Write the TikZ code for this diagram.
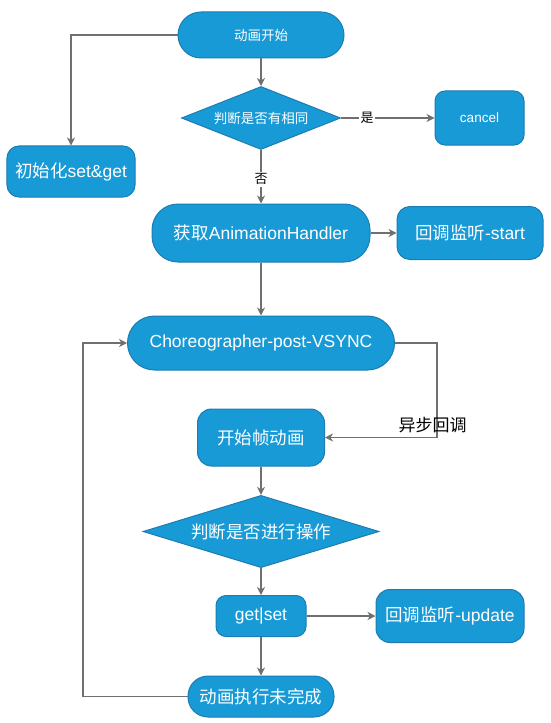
\documentclass[tikz,border=0pt]{standalone}
\usepackage{fontspec}
\setmainfont{Liberation Sans}
\newfontfamily\cjk{Noto Sans CJK SC}
\usetikzlibrary{shapes.geometric,arrows.meta}
\definecolor{boxfill}{RGB}{24,154,214}
\definecolor{boxline}{RGB}{28,124,178}
\definecolor{conncol}{RGB}{112,112,112}
\newcommand{\C}[1]{{\cjk #1}}
\tikzset{
  boxbase/.style={draw=boxline, fill=boxfill, line width=1bp, text=white, inner sep=0pt, align=center},
  small/.style={font=\fontsize{13.5bp}{16bp}\selectfont},
  big/.style={font=\fontsize{17.5bp}{20bp}\selectfont},
  rbox/.style={boxbase, rectangle, rounded corners=#1},
  dmd/.style={boxbase, diamond, shape aspect=2.5},
  conn/.style={draw=conncol, line width=1.2bp, -{Stealth[length=8bp,width=8bp,inset=2.5bp]}},
  lbl/.style={text=black, inner sep=1.5bp, font=\fontsize{13bp}{15bp}\selectfont},
}
\begin{document}
\begin{tikzpicture}[x=1bp,y=-1bp]
\useasboundingbox (0,0) rectangle (551,723);
% nodes
\node[rbox=23bp, small, minimum width=166bp, minimum height=46bp] (start) at (261,35) {\C{动画开始}};
\node[dmd, small, minimum width=159bp, minimum height=63bp] (dec1) at (261,118) {\C{判断是否有相同}};
\node[rbox=12bp, big, minimum width=128bp, minimum height=51bp] (init) at (71,171.5) {\C{初始化}set\&get};
\node[rbox=10bp, small, minimum width=89bp, minimum height=54bp] (cancel) at (479.5,118) {cancel};
\node[rbox=26bp, big, minimum width=218bp, minimum height=58bp] (handler) at (261,233) {\C{获取}AnimationHandler};
\node[rbox=13bp, big, minimum width=146bp, minimum height=53bp] (startcb) at (470,233) {\C{回调监听}-start};
\node[rbox=27bp, big, minimum width=267bp, minimum height=54bp] (choreo) at (261,343) {Choreographer-post-VSYNC};
\node[rbox=14bp, big, minimum width=127bp, minimum height=57bp] (frame) at (261,437.5) {\C{开始帧动画}};
\node[dmd, big, minimum width=236bp, minimum height=51bp] (dec2) at (261,531.5) {\C{判断是否进行操作}};
\node[rbox=10bp, big, minimum width=90bp, minimum height=41bp] (getset) at (261,616) {get|set};
\node[rbox=14bp, big, minimum width=148bp, minimum height=53bp] (update) at (450,616) {\C{回调监听}-update};
\node[rbox=20bp, big, minimum width=146bp, minimum height=41bp] (unfin) at (261,696.5) {\C{动画执行未完成}};
% bend points
\coordinate (rb) at (437,437.5);
\coordinate (lb) at (83,696.5);
% connectors
\draw[conn] (start.west) -| (init.north);
\draw[conn] (start.south) -- (dec1.north);
\draw[conn] (dec1.east) -- node[lbl, fill=white, pos=0.28] (yes) {\C{是}} (cancel.west);
\draw[conn] (dec1.south) -- node[lbl, fill=white, pos=0.55] (no) {\C{否}} (handler.north);
\draw[conn] (handler.east) -- (startcb.west);
\draw[conn] (handler.south) -- (choreo.north);
\draw[conn] (choreo.east) -| (rb) -- (frame.east);
\node[text=black, inner sep=0pt, font=\fontsize{17bp}{19bp}\selectfont] (async) at (432.5,425) {\C{异步回调}};
\draw[conn] (frame.south) -- (dec2.north);
\draw[conn] (dec2.south) -- (getset.north);
\draw[conn] (getset.east) -- (update.west);
\draw[conn] (getset.south) -- (unfin.north);
\draw[conn] (unfin.west) -- (lb) |- (choreo.west);
\end{tikzpicture}
\end{document}
